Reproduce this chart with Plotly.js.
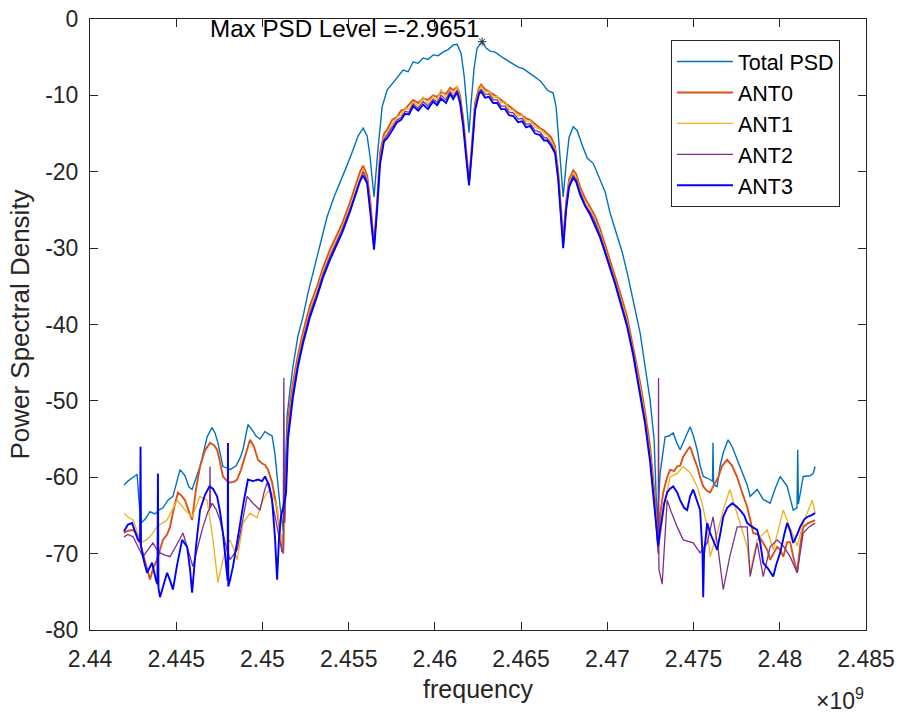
<!DOCTYPE html>
<html>
<head>
<meta charset="utf-8">
<script src="https://cdn.plot.ly/plotly-3.0.1.min.js"></script>
<style>html,body{margin:0;padding:0;background:#fff;}#chart{width:903px;height:714px;}</style>
</head>
<body>
<div id="chart"></div>
<script>
// ---------- DATA (frequencies in MHz, PSD in dB) ----------
const seriesNames = ["Total PSD", "ANT0", "ANT1", "ANT2", "ANT3"];
const maxPsdFreqMHz = 2462.74;
const maxPsdLevel = -2.9651;
const xTickVals = [2.44, 2.445, 2.45, 2.455, 2.46, 2.465, 2.47, 2.475, 2.48, 2.485];
const xTickText = ["2.44", "2.445", "2.45", "2.455", "2.46", "2.465", "2.47", "2.475", "2.48", "2.485"];
const yTickVals = [-80, -70, -60, -50, -40, -30, -20, -10, 0];
const yTickText = ["-80", "-70", "-60", "-50", "-40", "-30", "-20", "-10", "0"];

const totalFreq = [2441.97,2442.2,2442.5,2442.73,2442.84,2442.96,2443.19,2443.48,2443.77,2444.06,2444.23,2444.52,2444.81,2445.05,2445.22,2445.51,2445.74,2445.92,2446.15,2446.38,2446.61,2446.79,2447.08,2447.25,2447.42,2447.54,2447.71,2447.95,2448.12,2448.47,2448.7,2448.87,2449.16,2449.4,2449.63,2449.86,2450.15,2450.32,2450.56,2450.73,2450.9,2451.02,2451.22,2451.43,2451.6,2451.77,2452.06,2452.35,2452.65,2452.94,2453.34,2453.75,2454.15,2454.5,2454.9,2455.26,2455.55,2455.84,2456.07,2456.24,2456.47,2456.7,2456.94,2457.23,2457.7,2458.16,2458.45,2458.74,2459.03,2459.32,2459.6,2459.9,2460.19,2460.48,2460.77,2461.06,2461.29,2461.52,2461.7,2461.87,2461.98,2462.1,2462.27,2462.45,2462.68,2462.74,2462.97,2463.2,2463.43,2463.6,2463.9,2464.19,2464.54,2464.83,2465.12,2465.52,2465.87,2466.16,2466.51,2466.68,2466.86,2467.03,2467.2,2467.44,2467.61,2467.78,2468.02,2468.25,2468.54,2468.83,2469.18,2469.58,2469.87,2470.16,2470.57,2470.86,2471.15,2471.5,2471.9,2472.19,2472.48,2472.71,2472.89,2473.06,2473.35,2473.58,2473.82,2474.05,2474.22,2474.51,2474.8,2474.98,2475.21,2475.38,2475.56,2475.79,2475.96,2476.1,2476.13,2476.16,2476.37,2476.54,2476.72,2477.0,2477.24,2477.53,2477.88,2478.11,2478.28,2478.69,2479.04,2479.44,2479.73,2480.02,2480.43,2480.78,2481.0,2481.04,2481.08,2481.36,2481.76,2481.94,2482.05];
const totalPSD = [-61.0,-60.5,-60.0,-59.6,-63,-66,-65.5,-64.5,-64.8,-64.2,-64,-63,-62.5,-60.5,-59,-59.8,-61.3,-61.6,-60,-58.6,-56.5,-54.7,-53.5,-54.2,-55.5,-57,-58.6,-58.8,-59,-58.5,-57.5,-56.4,-53.1,-53.8,-54.6,-55,-54,-54.3,-54.6,-57,-61,-63.8,-67,-52,-48.5,-45.5,-41.5,-39,-35.8,-33.2,-29.5,-25.9,-23.3,-21.5,-19.2,-17.1,-15.3,-14.3,-15.3,-18,-23.3,-17,-11.5,-9.3,-8.0,-6.7,-6.9,-5.6,-5.8,-5.1,-5.3,-4.7,-4.8,-4.3,-4.0,-3.4,-3.3,-4.5,-7.5,-11.5,-14.9,-11,-6.5,-3.8,-3.0,-2.9651,-3.8,-4.2,-4.3,-4.5,-5.0,-5.4,-5.8,-6.3,-6.5,-7.1,-7.7,-8.2,-9.3,-9.5,-9.7,-11.5,-16,-23.3,-19,-15.5,-14.1,-14.6,-16.5,-18.2,-18.9,-21,-22.6,-25.4,-28.4,-30.5,-33.2,-36.8,-41.1,-45.5,-49.9,-55,-66,-59.5,-54.7,-54.6,-54.2,-55.6,-56.4,-54.9,-53.4,-54.5,-56.4,-58.5,-59.9,-60.1,-60.3,-60.5,-55.5,-61,-61.2,-58.5,-56.8,-55.1,-56,-57.7,-59.9,-61,-62.5,-61.6,-62.9,-63.4,-61.5,-59.9,-61.2,-64.3,-64,-56.4,-63.5,-59.9,-59.8,-59.5,-58.6];

// shared in-band frequency grid for the four antennas
const mainFreq = [2451.37,2451.48,2451.77,2452.06,2452.35,2452.76,2453.17,2453.52,2453.92,2454.27,2454.62,2455.08,2455.37,2455.66,2455.84,2456.07,2456.24,2456.47,2456.65,2456.82,2457.05,2457.23,2457.52,2457.81,2458.04,2458.27,2458.5,2458.74,2459.03,2459.32,2459.6,2459.9,2460.13,2460.36,2460.65,2460.88,2461.06,2461.29,2461.46,2461.64,2461.81,2461.98,2462.16,2462.33,2462.56,2462.68,2462.91,2463.14,2463.38,2463.61,2463.84,2464.07,2464.3,2464.54,2464.83,2465.06,2465.29,2465.52,2465.81,2466.1,2466.33,2466.51,2466.74,2466.97,2467.15,2467.32,2467.44,2467.61,2467.78,2468.02,2468.19,2468.42,2468.71,2469.0,2469.29,2469.58,2469.87,2470.16,2470.45,2470.74,2471.15,2471.5,2471.9,2472.19,2472.48,2472.77,2472.95];

const ant0LeftFreq = [2441.97,2442.2,2442.5,2442.73,2442.9,2443.19,2443.48,2443.65,2443.89,2444.06,2444.23,2444.47,2444.64,2444.87,2445.1,2445.34,2445.51,2445.74,2445.92,2446.15,2446.38,2446.67,2446.96,2447.19,2447.37,2447.54,2447.71,2447.95,2448.12,2448.35,2448.53,2448.76,2448.99,2449.28,2449.51,2449.74,2449.98,2450.15,2450.32,2450.56,2450.79,2451.02,2451.2];
const ant0LeftPSD = [-67.3,-67,-66.9,-67.5,-68.6,-71,-73.4,-72,-70.8,-69.5,-68.2,-67.5,-66.5,-64,-62,-62.5,-63,-64.5,-65.6,-61.5,-58.6,-56.5,-55.5,-55.8,-56.4,-58,-59.9,-60.5,-60.7,-60.6,-60.3,-59,-57.3,-55.1,-56,-57.7,-58.2,-58.4,-59,-60.7,-63.5,-67.3,-70];
const ant0MainPSD = [-60,-52.5,-47.6,-44,-41,-37.5,-35,-32.5,-30.2,-28.5,-26.8,-24.0,-22,-20,-19.2,-20.5,-23.5,-29.5,-24,-17.5,-15,-14.5,-13.2,-12.8,-12,-11.8,-11.2,-10.6,-11,-10.4,-10.6,-10.0,-10.2,-9.6,-9.8,-9.0,-9.3,-8.9,-10,-13,-17,-21.3,-16,-11,-9,-8.6,-9.2,-9.5,-9.8,-10.2,-10.6,-11.0,-11.5,-11.9,-12.3,-12.6,-13.0,-13.2,-13.8,-14.3,-14.6,-15.0,-15.5,-16.7,-20,-25,-29,-24,-21,-19.8,-20.3,-22,-23.5,-24.6,-25.8,-27.5,-29.5,-31.5,-33.5,-35.8,-39,-42.8,-47.6,-51.5,-56,-63,-68];
const ant0RightFreq = [2473.06,2473.24,2473.47,2473.64,2473.87,2474.05,2474.22,2474.4,2474.63,2474.8,2475.03,2475.21,2475.38,2475.56,2475.79,2475.96,2476.19,2476.43,2476.66,2476.95,2477.24,2477.53,2477.82,2478.11,2478.28,2478.46,2478.75,2479.04,2479.27,2479.44,2479.68,2479.85,2480.02,2480.2,2480.43,2480.6,2480.84,2481.01,2481.18,2481.36,2481.65,2481.88,2482.05];
const ant0RightPSD = [-65,-62,-60,-59,-59.2,-58.6,-58.5,-57.3,-56.5,-56,-57.5,-58.6,-60,-61.2,-61.8,-62,-61,-60,-58.5,-57.7,-58.5,-60,-62,-63.9,-65.5,-67.3,-67.5,-68.6,-69.5,-70.8,-69.8,-69.1,-69.5,-70.4,-68.5,-68.5,-71,-72.5,-69,-66.5,-66,-65.8,-65.6];

const ant1LeftFreq = [2441.97,2442.2,2442.5,2442.73,2442.9,2443.19,2443.48,2443.89,2444.18,2444.47,2444.76,2445.05,2445.28,2445.51,2445.92,2446.15,2446.38,2446.61,2446.79,2446.96,2447.13,2447.42,2447.71,2447.95,2448.12,2448.35,2448.53,2448.7,2448.87,2449.28,2449.51,2449.69,2449.86,2450.03,2450.27,2450.44,2450.67,2450.85,2451.02,2451.2];
const ant1LeftPSD = [-64.7,-65.2,-65.6,-67,-68.6,-68.3,-67.8,-66.5,-66,-65.6,-64.3,-63,-63.6,-64.3,-65.2,-63.8,-62.5,-62.8,-63,-65.5,-68.2,-73.8,-70.8,-69,-68.2,-69.5,-70.8,-68.5,-66,-64.7,-65,-65.3,-64,-63,-62,-61.6,-62.8,-64,-67,-69.5];
const ant1MainPSD = [-61,-53.5,-48.3,-44.6,-41.6,-38.1,-35.5,-33,-30.8,-29,-27.3,-24.6,-22.6,-20.6,-19.6,-21,-24.2,-30,-24.5,-18.2,-15.5,-15,-13.8,-12.8,-12.6,-11.6,-11.9,-10.8,-11.4,-10.2,-11.1,-10.1,-10.6,-9.2,-10.3,-9.3,-9.8,-8.8,-10.5,-13.5,-17.5,-21.5,-16.5,-11.5,-9.2,-8.8,-9.6,-9.4,-10.3,-10.1,-11,-10.8,-11.9,-11.9,-12.7,-12.6,-13.4,-13.3,-14.2,-14.4,-15,-15.2,-15.9,-17,-20.5,-25.5,-29.5,-24.5,-21.5,-20.2,-20.7,-22.4,-24,-25,-26.3,-28,-30,-32,-34,-36.3,-39.6,-43.4,-48.2,-52.2,-57,-64,-69];
const ant1RightFreq = [2473.06,2473.35,2473.64,2474.05,2474.4,2474.8,2475.21,2475.5,2475.79,2475.96,2476.37,2476.72,2477.1,2477.53,2478.11,2478.28,2478.69,2479.27,2479.62,2480.2,2480.6,2481.01,2481.36,2481.88,2482.05];
const ant1RightPSD = [-68,-63,-60,-59.5,-58.6,-59.4,-61.2,-63.5,-66.5,-70.4,-67.3,-64.3,-61.6,-64.7,-69.1,-72.5,-68.2,-66.9,-69.5,-64.3,-66.5,-69,-66,-63,-64.7];

const ant2LeftFreq = [2441.97,2442.2,2442.5,2442.78,2443.07,2443.36,2443.65,2443.89,2444.06,2444.35,2444.64,2444.99,2445.39,2445.68,2445.97,2446.26,2446.55,2446.84,2446.94,2446.96,2446.98,2447.08,2447.31,2447.54,2447.83,2448.12,2448.29,2448.53,2448.82,2449.11,2449.45,2449.86,2450.09,2450.27,2450.44,2450.62,2450.85,2451.02,2451.14,2451.2,2451.24,2451.28];
const ant2LeftPSD = [-67.8,-67.5,-67.8,-69,-70.4,-69.5,-68.6,-69.5,-69.9,-70.2,-70.4,-69,-67.3,-69.5,-71.7,-69,-66.5,-64.5,-64.2,-58.6,-64,-63.4,-64.2,-65.6,-68.5,-70.8,-70.2,-69.5,-66,-62.5,-63.4,-64.3,-62,-60.7,-61.8,-63.9,-66.5,-68.5,-69.8,-69.5,-47,-66];
const ant2MainPSD = [-61.5,-54,-48.8,-45,-42,-38.5,-35.9,-33.4,-31.1,-29.4,-27.6,-24.9,-23,-20.9,-20,-21.2,-24.6,-30.1,-24.7,-18.6,-15.8,-15.2,-14.2,-13.2,-12.9,-12.1,-12.2,-11.1,-11.7,-10.8,-11.4,-10.5,-10.9,-10,-10.6,-9.5,-10.2,-9.3,-10.7,-13.7,-17.7,-21.6,-16.7,-11.7,-9.5,-9.2,-9.9,-9.8,-10.6,-10.6,-11.4,-11.4,-12.2,-12.3,-13.1,-13,-13.8,-13.7,-14.6,-14.8,-15.5,-15.6,-16.3,-17.3,-20.8,-25.8,-29.8,-24.8,-21.8,-20.5,-21,-22.7,-24.3,-25.3,-26.6,-28.3,-30.3,-32.3,-34.4,-36.7,-40,-43.7,-48.6,-52.6,-57.5,-64.5,-70];
const ant2RightFreq = [2472.97,2472.99,2473.18,2473.47,2473.7,2474.05,2474.4,2474.98,2475.38,2475.79,2476.13,2476.43,2476.72,2477.1,2477.53,2478.11,2478.28,2478.69,2479.04,2479.44,2479.85,2480.2,2480.6,2481.01,2481.36,2481.7,2482.05];
const ant2RightPSD = [-47,-72,-74,-63,-64.5,-66.5,-68.2,-68.6,-69.9,-68.6,-65.2,-69.5,-74.7,-70.4,-66.5,-66.5,-73,-68.6,-73,-69.1,-68.2,-69,-70.4,-72.5,-67.3,-66.5,-66];

const ant3LeftFreq = [2441.97,2442.2,2442.44,2442.61,2442.78,2442.9,2442.93,2442.96,2443.13,2443.31,2443.48,2443.6,2443.83,2443.91,2443.94,2443.97,2444.06,2444.29,2444.47,2444.64,2444.81,2445.05,2445.34,2445.63,2445.8,2445.92,2446.15,2446.38,2446.67,2446.93,2447.13,2447.37,2447.54,2447.71,2447.89,2447.98,2448.0,2448.02,2448.12,2448.29,2448.53,2448.7,2448.93,2449.16,2449.45,2449.74,2449.98,2450.15,2450.38,2450.56,2450.73,2450.85,2450.96,2451.08,2451.2];
const ant3LeftPSD = [-67.1,-66.2,-66,-67,-68.2,-68.5,-56,-69,-71,-72.5,-71.8,-71.2,-73.5,-74,-59.5,-74.5,-75.7,-74,-72.5,-73.5,-74.7,-71.5,-68.2,-69.1,-72,-75.1,-69,-64.3,-62.3,-61.2,-61.5,-62.5,-64.5,-67.3,-71.5,-73.5,-55.5,-74.3,-73.5,-71.7,-68.5,-66,-63,-60.3,-60.5,-60.3,-60.5,-59.9,-61,-63,-68,-73.4,-68,-65,-64];
const ant3MainPSD = [-62,-55,-49.5,-45.5,-42.5,-39,-36.3,-33.8,-31.5,-29.8,-28,-25.2,-23.3,-21.2,-20.5,-21.5,-25,-30.2,-25,-19,-16,-15.6,-14.6,-13.5,-13.2,-12.4,-12.5,-11.4,-12,-11.2,-11.8,-10.8,-11.3,-10.4,-11,-9.8,-10.5,-9.6,-11,-14,-18,-21.8,-17,-12,-9.8,-9.5,-10.3,-10.2,-11,-11,-11.8,-11.8,-12.6,-12.7,-13.5,-13.4,-14.2,-14.0,-15,-15.2,-15.9,-15.9,-16.6,-17.6,-21,-26,-30,-25,-22,-20.8,-21.3,-23,-24.5,-25.6,-27,-28.6,-30.6,-32.6,-34.7,-37,-40.3,-44,-49,-53,-58,-65,-69];
const ant3RightFreq = [2473.06,2473.29,2473.47,2473.64,2473.82,2474.05,2474.22,2474.45,2474.63,2474.8,2474.98,2475.21,2475.38,2475.52,2475.56,2475.61,2475.79,2475.96,2476.19,2476.37,2476.54,2476.72,2476.95,2477.24,2477.47,2477.7,2477.94,2478.11,2478.4,2478.69,2478.86,2479.04,2479.33,2479.62,2479.79,2480.02,2480.26,2480.43,2480.6,2480.78,2481.01,2481.18,2481.42,2481.59,2481.82,2482.05];
const ant3RightPSD = [-67,-63.5,-62,-61.5,-61.2,-62,-63,-64,-64.3,-62.5,-61.6,-63,-64.3,-70,-75.7,-70,-66,-67.3,-68.5,-69.5,-67.5,-65.2,-64,-63.4,-63.8,-64.3,-65,-66,-66.5,-66.9,-68.5,-71.2,-72,-73,-71.5,-69.9,-67.5,-66,-67,-68.6,-67.5,-66.5,-65.5,-65.2,-65,-64.7];

// ---------- BUILD ----------
const toGHz = a => a.map(v => v / 1000);
const ant0Freq = ant0LeftFreq.concat(mainFreq, ant0RightFreq);
const ant0PSD = ant0LeftPSD.concat(ant0MainPSD, ant0RightPSD);
const ant1Freq = ant1LeftFreq.concat(mainFreq, ant1RightFreq);
const ant1PSD = ant1LeftPSD.concat(ant1MainPSD, ant1RightPSD);
const ant2Freq = ant2LeftFreq.concat(mainFreq, ant2RightFreq);
const ant2PSD = ant2LeftPSD.concat(ant2MainPSD, ant2RightPSD);
const ant3Freq = ant3LeftFreq.concat(mainFreq, ant3RightFreq);
const ant3PSD = ant3LeftPSD.concat(ant3MainPSD, ant3RightPSD);

const colors = ["#0072BD", "#D95319", "#EDB120", "#7E2F8E", "#0000FF"];
const widths = [1.4, 1.9, 1.3, 1.3, 1.9];
const xs = [totalFreq, ant0Freq, ant1Freq, ant2Freq, ant3Freq];
const ys = [totalPSD, ant0PSD, ant1PSD, ant2PSD, ant3PSD];

const FONT = '"Liberation Sans", Arial, Helvetica, sans-serif';
const INK = "#262626";

const traces = seriesNames.map((n, i) => ({
  type: "scatter", mode: "lines", name: n,
  x: toGHz(xs[i]), y: ys[i],
  line: {color: colors[i], width: widths[i]},
  hoverinfo: "skip"
}));
traces.push({
  type: "scatter", mode: "markers", showlegend: false,
  x: [maxPsdFreqMHz / 1000], y: [maxPsdLevel],
  marker: {symbol: "asterisk-open", size: 7, color: "#303030", line: {color: "#303030", width: 1}},
  hoverinfo: "skip"
});

const layout = {
  width: 903, height: 714,
  margin: {l: 90, r: 37, t: 19, b: 84, pad: 0},
  paper_bgcolor: "#ffffff", plot_bgcolor: "#ffffff",
  font: {family: FONT, color: INK, size: 23},
  showlegend: true,
  legend: {
    x: 0.7487, y: 0.9656, xanchor: "left", yanchor: "top",
    bgcolor: "#ffffff", bordercolor: INK, borderwidth: 1,
    font: {family: FONT, size: 21.5, color: "#000000"},
    itemwidth: 56, tracegroupgap: 0
  },
  xaxis: {
    range: [2.44, 2.485], tickvals: xTickVals, ticktext: xTickText,
    ticks: "inside", ticklen: 8, tickcolor: INK, tickwidth: 1,
    showline: true, linecolor: INK, linewidth: 1, mirror: "ticks",
    showgrid: false, zeroline: false, ticklabelstandoff: 8,
    tickfont: {family: FONT, size: 23, color: INK},
    title: {text: "frequency", font: {family: FONT, size: 25, color: INK}, standoff: 9}
  },
  yaxis: {
    range: [-80, 0], tickvals: yTickVals, ticktext: yTickText,
    ticks: "inside", ticklen: 8, tickcolor: INK, tickwidth: 1,
    showline: true, linecolor: INK, linewidth: 1, mirror: "ticks",
    showgrid: false, zeroline: false, ticklabelstandoff: 6,
    tickfont: {family: FONT, size: 23, color: INK},
    title: {text: "Power Spectral Density", font: {family: FONT, size: 26, color: INK}, standoff: 8}
  },
  annotations: [
    {xref: "x", yref: "y", x: maxPsdFreqMHz / 1000, y: -1.3, xanchor: "right", yanchor: "middle",
     text: "Max PSD Level =" + maxPsdLevel, showarrow: false,
     font: {family: FONT, size: 24.2, color: "#000000"}},
    {xref: "paper", yref: "paper", x: 1.0, y: -0.113, xanchor: "right", yanchor: "middle",
     text: "\u00d710<sup>9</sup>", showarrow: false,
     font: {family: FONT, size: 23, color: INK}}
  ]
};

Plotly.newPlot("chart", traces, layout, {displayModeBar: false, staticPlot: true});
</script>
</body>
</html>
